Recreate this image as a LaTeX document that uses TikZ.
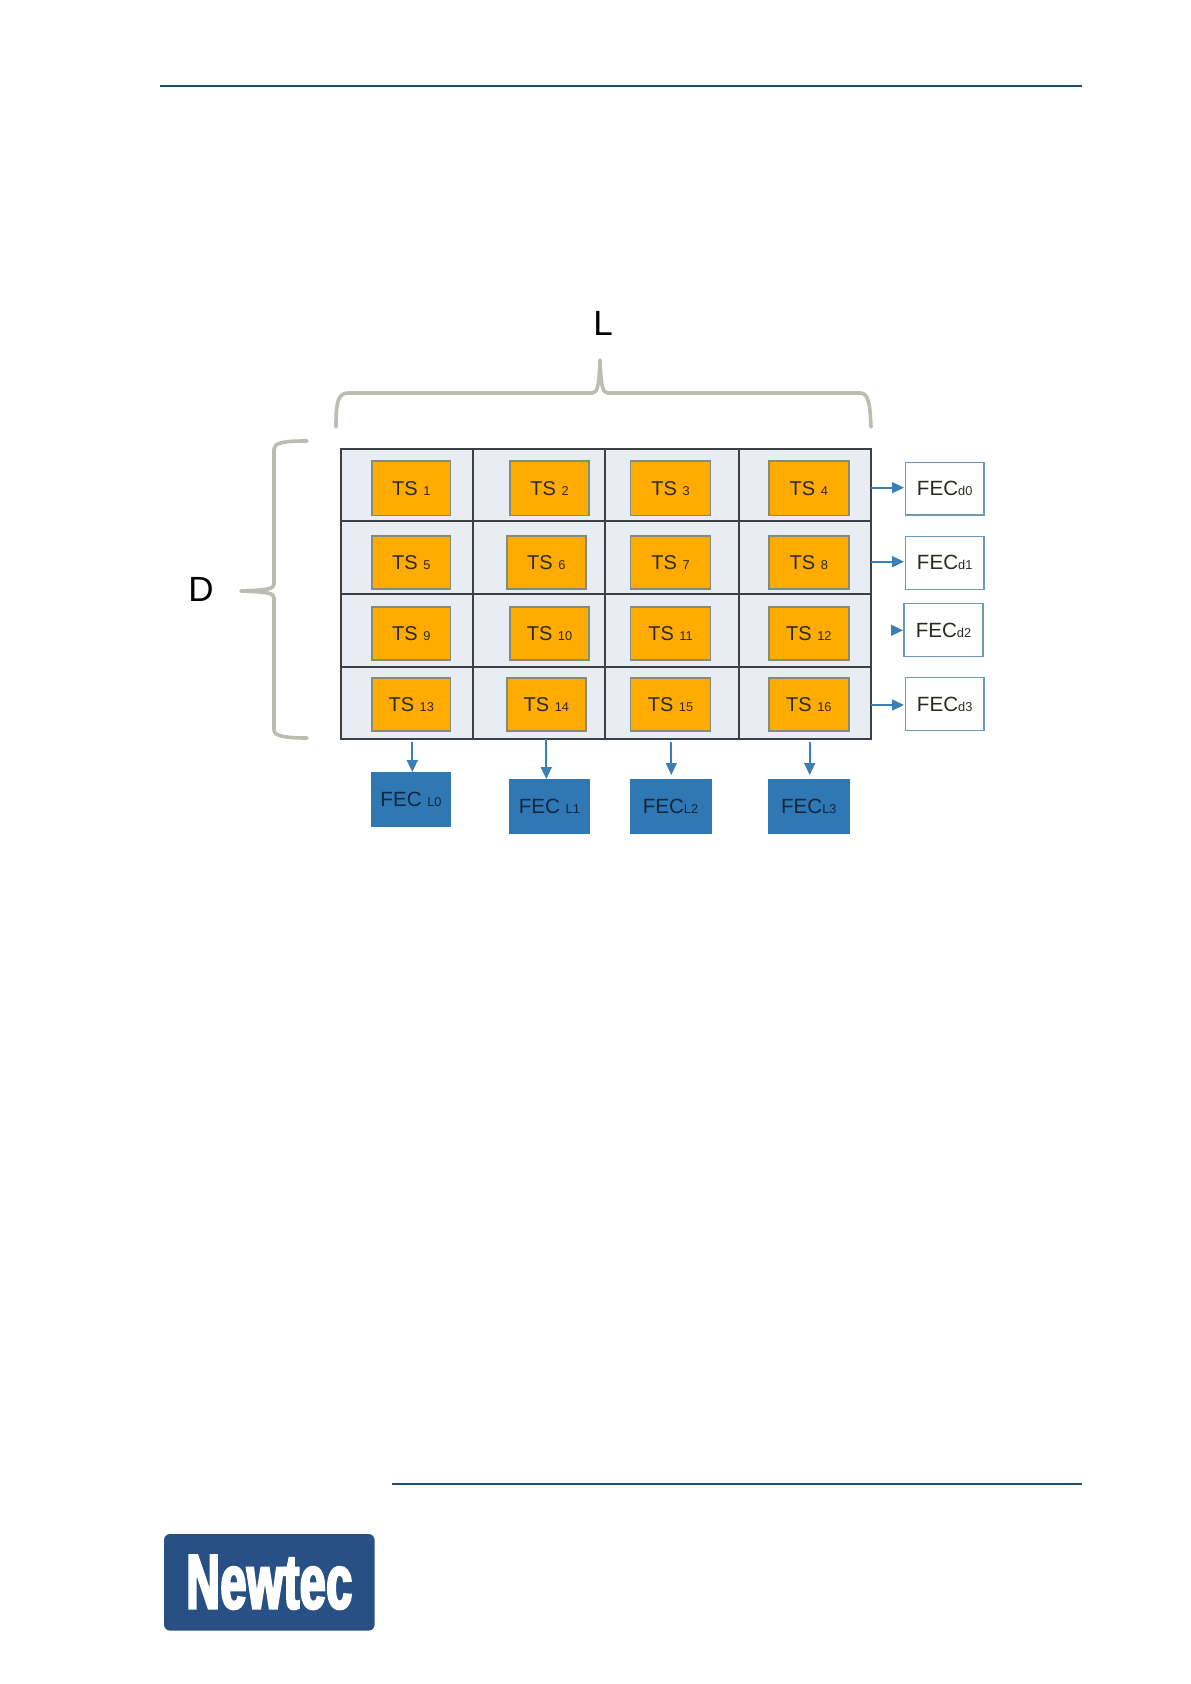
\documentclass[tikz,border=0pt]{standalone}
\usepackage{fontspec}
\setmainfont{Liberation Sans}
\newfontfamily\logofont[FakeStretch=0.60,FakeBold=3.2,LetterSpace=1]{Liberation Sans Bold}
\usetikzlibrary{arrows.meta}
\definecolor{rule}{HTML}{1F4E70}
\definecolor{cellfill}{HTML}{E8ECF3}
\definecolor{gridline}{HTML}{3C4046}
\definecolor{tsfill}{HTML}{FFAB00}
\definecolor{tsline}{HTML}{7F8C7E}
\definecolor{fecfill}{HTML}{2F78B4}
\definecolor{fecink}{HTML}{11263F}
\definecolor{wline}{HTML}{6F9AB5}
\definecolor{arrowc}{HTML}{3A7FB5}
\definecolor{bracec}{HTML}{BDBCB0}
\definecolor{logoc}{HTML}{285085}
\definecolor{ink}{HTML}{2A2A22}
\newcommand{\sm}[1]{{\fontsize{6.4}{7}\selectfont #1}}
\newcommand{\bx}[7]{%
  \pgfmathsetlengthmacro\bw{(#4-#2)*0.5pt}%
  \pgfmathsetlengthmacro\bh{(#5-#3)*0.5pt}%
  \node[#1,minimum width=\bw,minimum height=\bh] (#7) at ({(#2+#4)/2},{(#3+#5)/2}) {#6};}
\tikzset{
  x=0.5pt,y=-0.5pt,
  gridbox/.style={draw=gridline,fill=cellfill,line width=1pt,inner sep=0pt},
  tsbox/.style={draw=tsline,fill=tsfill,line width=0.8pt,inner sep=0pt,text=ink,font=\fontsize{10}{12}\selectfont},
  fecl/.style={draw=fecfill,fill=fecfill,line width=0.5pt,inner sep=0pt,text=fecink,font=\fontsize{10.3}{12}\selectfont},
  fecd/.style={draw=wline,fill=white,line width=0.7pt,inner sep=0pt,text=ink,font=\fontsize{10.3}{12}\selectfont},
  gridrule/.style={draw=gridline,line width=1pt},
  conn/.style={draw=arrowc,line width=0.85pt,-{Triangle[length=6pt,width=5.5pt]}},
  bracepath/.style={draw=bracec,line width=1.8pt,line cap=round,line join=round},
  pagerule/.style={draw=rule,line width=0.8pt},
  biglabel/.style={inner sep=0pt,font=\fontsize{17.5}{20}\selectfont,text=black}
}
\begin{document}
\begin{tikzpicture}
\useasboundingbox[fill=white] (0,0) rectangle (1190,1684);
\coordinate (hl) at (160,86); \coordinate (hr) at (1082,86);
\coordinate (fl) at (392,1484); \coordinate (fr) at (1082,1484);
\draw[pagerule] (hl) -- (hr);
\draw[pagerule] (fl) -- (fr);
% labels and braces
\node[biglabel] (L) at (603,323) {L};
\node[biglabel] (D) at (201,589) {D};
\draw[bracepath] (336,427) .. controls (336,405) and (337,393) .. (348,393) -- (592,393)
  .. controls (597,393) and (599,388) .. (600,360)
  .. controls (601,388) and (603,393) .. (608,393) -- (860,393)
  .. controls (869,393) and (870,405) .. (871,427);
\draw[bracepath] (307,441) .. controls (285,441) and (274,442) .. (274,450) -- (274,584)
  .. controls (274,589) and (268,590) .. (241,591)
  .. controls (268,592) and (274,593) .. (274,598) -- (274,730)
  .. controls (274,736) and (285,738) .. (307,738);
% grid
\bx{gridbox}{341}{449}{871.3}{739.3}{}{grid}
\coordinate (v1t) at (473.3,449); \coordinate (v1b) at (473.3,739.3);
\coordinate (v2t) at (605,449); \coordinate (v2b) at (605,739.3);
\coordinate (v3t) at (739,449); \coordinate (v3b) at (739,739.3);
\coordinate (h1l) at (341,521); \coordinate (h1r) at (871.3,521);
\coordinate (h2l) at (341,593.7); \coordinate (h2r) at (871.3,593.7);
\coordinate (h3l) at (341,666.7); \coordinate (h3r) at (871.3,666.7);
\draw[gridrule] (v1t) -- (v1b);
\draw[gridrule] (v2t) -- (v2b);
\draw[gridrule] (v3t) -- (v3b);
\draw[gridrule] (h1l) -- (h1r);
\draw[gridrule] (h2l) -- (h2r);
\draw[gridrule] (h3l) -- (h3r);
% TS boxes
\bx{tsbox}{372}{461}{450.5}{515.3}{TS \sm{1}}{ts1}
\bx{tsbox}{510}{461}{589}{515.3}{TS \sm{2}}{ts2}
\bx{tsbox}{630.5}{461}{710.5}{515.3}{TS \sm{3}}{ts3}
\bx{tsbox}{769}{461}{848.7}{515.3}{TS \sm{4}}{ts4}
\bx{tsbox}{372}{536}{450.5}{589}{TS \sm{5}}{ts5}
\bx{tsbox}{507}{536}{585.7}{589}{TS \sm{6}}{ts6}
\bx{tsbox}{630.5}{536}{710.5}{589}{TS \sm{7}}{ts7}
\bx{tsbox}{769}{536}{848.7}{589}{TS \sm{8}}{ts8}
\bx{tsbox}{372}{607}{450.5}{659.7}{TS \sm{9}}{ts9}
\bx{tsbox}{510}{607}{589}{659.7}{TS \sm{10}}{ts10}
\bx{tsbox}{630.5}{607}{710.5}{659.7}{TS \sm{11}}{ts11}
\bx{tsbox}{769}{607}{848.7}{659.7}{TS \sm{12}}{ts12}
\bx{tsbox}{372}{677.7}{450.5}{730.7}{TS \sm{13}}{ts13}
\bx{tsbox}{507}{677.7}{585.7}{730.7}{TS \sm{14}}{ts14}
\bx{tsbox}{630.5}{677.7}{710.5}{730.7}{TS \sm{15}}{ts15}
\bx{tsbox}{769}{677.7}{848.7}{730.7}{TS \sm{16}}{ts16}
% FEC L
\bx{fecl}{371.3}{772}{450.7}{826}{FEC \sm{L0}}{fl0}
\bx{fecl}{509.7}{779.7}{589}{833.3}{FEC \sm{L1}}{fl1}
\bx{fecl}{630}{779.7}{711}{833.3}{FEC\sm{L2}}{fl2}
\bx{fecl}{768.3}{779.7}{849.3}{833.3}{FEC\sm{L3}}{fl3}
% FEC d
\bx{fecd}{905.3}{462.3}{984}{515}{FEC\sm{d0}}{fd0}
\bx{fecd}{905.3}{536.3}{984}{589.3}{FEC\sm{d1}}{fd1}
\bx{fecd}{904}{603.7}{983}{656.7}{FEC\sm{d2}}{fd2}
\bx{fecd}{905.3}{677.7}{984}{730.7}{FEC\sm{d3}}{fd3}
% connectors
\coordinate (a0) at (871.3,487.7); \coordinate (a0e) at (904,487.7);
\coordinate (a1) at (871.3,561.7); \coordinate (a1e) at (904,561.7);
\coordinate (a2) at (892.7,630.3); \coordinate (a2e) at (903,630.3);
\coordinate (a3) at (871.3,705); \coordinate (a3e) at (904,705);
\draw[conn] (a0) -- (a0e);
\draw[conn] (a1) -- (a1e);
\draw[conn] (a2) -- (a2e);
\draw[conn] (a3) -- (a3e);
\coordinate (b0) at (412.3,742.3); \coordinate (b0e) at (412.3,772);
\coordinate (b1) at (546.3,739.3); \coordinate (b1e) at (546.3,779);
\coordinate (b2) at (671.3,742.3); \coordinate (b2e) at (671.3,775);
\coordinate (b3) at (809.7,742.3); \coordinate (b3e) at (809.7,775);
\draw[conn] (b0) -- (b0e);
\draw[conn] (b1) -- (b1e);
\draw[conn] (b2) -- (b2e);
\draw[conn] (b3) -- (b3e);
% logo
\node[fill=logoc,rounded corners=3pt,minimum width=105.3pt,minimum height=48.3pt,inner sep=0pt,text=white] (logo) at (269.3,1582.3) {\logofont\fontsize{38.5}{40}\selectfont Newtec};
\end{tikzpicture}
\end{document}
